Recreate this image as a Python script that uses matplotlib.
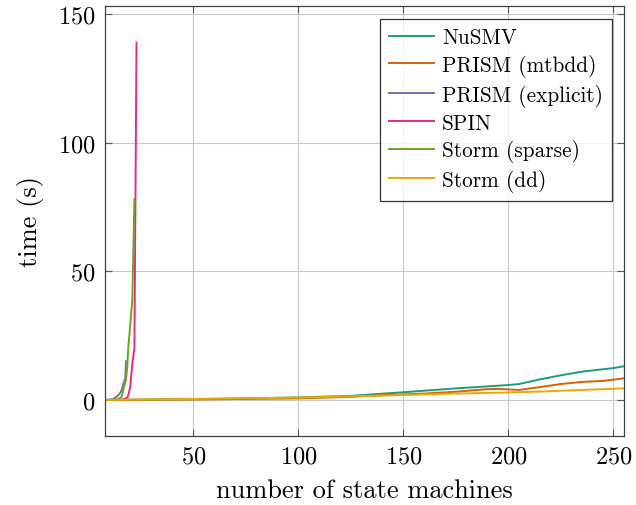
import matplotlib
matplotlib.use("Agg")
import matplotlib.pyplot as plt

plt.rcParams['font.family'] = ['cmr10', 'DejaVu Serif']
plt.rcParams['axes.formatter.use_mathtext'] = True
plt.rcParams['mathtext.fontset'] = 'cm'

# ---- data ----
nusmv_x = [8, 25, 50, 75, 100, 125, 150, 175, 200, 205, 215, 225, 235, 250, 255]
nusmv_y = [0.0, 0.1, 0.3, 0.6, 1.0, 1.6, 3.0, 4.5, 5.8, 6.2, 8.0, 9.6, 11.0, 12.4, 13.1]

mtbdd_x = [8, 50, 100, 125, 140, 160, 175, 190, 195, 205, 215, 225, 235, 245, 255]
mtbdd_y = [0.0, 0.2, 0.6, 1.2, 1.8, 2.5, 3.2, 4.2, 4.3, 3.9, 5.0, 6.2, 7.0, 7.4, 8.4]

explicit_x = [8, 10, 12, 13, 14, 15, 16, 17, 17.6, 18]
explicit_y = [0.0, 0.1, 0.4, 1.0, 1.5, 2.5, 4.0, 7.0, 8.0, 15.0]

spin_x = [8, 12, 15, 17, 18, 19, 20, 21, 22, 23]
spin_y = [0.0, 0.0, 0.1, 0.3, 0.6, 1.5, 5.0, 14.0, 20.0, 139.0]

sparse_x = [8, 12, 14, 15, 16, 17, 18, 18.6, 19, 20, 21, 22]
sparse_y = [0.0, 0.1, 0.3, 0.6, 1.5, 5.0, 8.0, 13.0, 19.5, 29.0, 39.0, 78.0]

stormdd_x = [8, 50, 100, 140, 170, 200, 220, 235, 255]
stormdd_y = [0.0, 0.4, 0.9, 1.7, 2.4, 2.9, 3.4, 3.9, 4.5]

series = [
    ("NuSMV", nusmv_x, nusmv_y, "#1b9e77"),
    ("PRISM (mtbdd)", mtbdd_x, mtbdd_y, "#d95f02"),
    ("PRISM (explicit)", explicit_x, explicit_y, "#7570b3"),
    ("SPIN", spin_x, spin_y, "#e7298a"),
    ("Storm (sparse)", sparse_x, sparse_y, "#66a61e"),
    ("Storm (dd)", stormdd_x, stormdd_y, "#e6ab02"),
]

xticks = [50, 100, 150, 200, 250]
yticks = [0, 50, 100, 150]

fig = plt.figure(figsize=(6.36, 5.06), dpi=100)
ax = fig.add_axes([105/636, 1-436.7/506, (624-105)/636, (436.7-7)/506])

for label, xs, ys, c in series:
    ax.plot(xs, ys, color=c, lw=1.4, label=label, solid_joinstyle='round')

ax.set_xlim(8, 255)
ax.set_ylim(-13.9, 153.2)
ax.set_xticks(xticks)
ax.set_yticks(yticks)
ax.grid(True, color='#c8c8c8', lw=0.8)
ax.set_axisbelow(True)
ax.tick_params(direction='in', top=True, right=True, length=5, width=0.8,
               color='#555555', labelsize=17.5, pad=7)
for s in ax.spines.values():
    s.set_color('#404040')
    s.set_linewidth(0.9)

ax.set_xlabel('number of state machines', fontsize=19, labelpad=8)
ax.set_ylabel('time (s)', fontsize=19, labelpad=10)

leg = ax.legend(loc='upper right', bbox_to_anchor=(0.977, 0.97), borderaxespad=0,
                fontsize=15.3, frameon=True, fancybox=False, edgecolor='black',
                handlelength=2.1, handletextpad=0.4, labelspacing=0.31, borderpad=0.42)
leg.get_frame().set_linewidth(0.9)

fig.savefig('out.png', dpi=100)
